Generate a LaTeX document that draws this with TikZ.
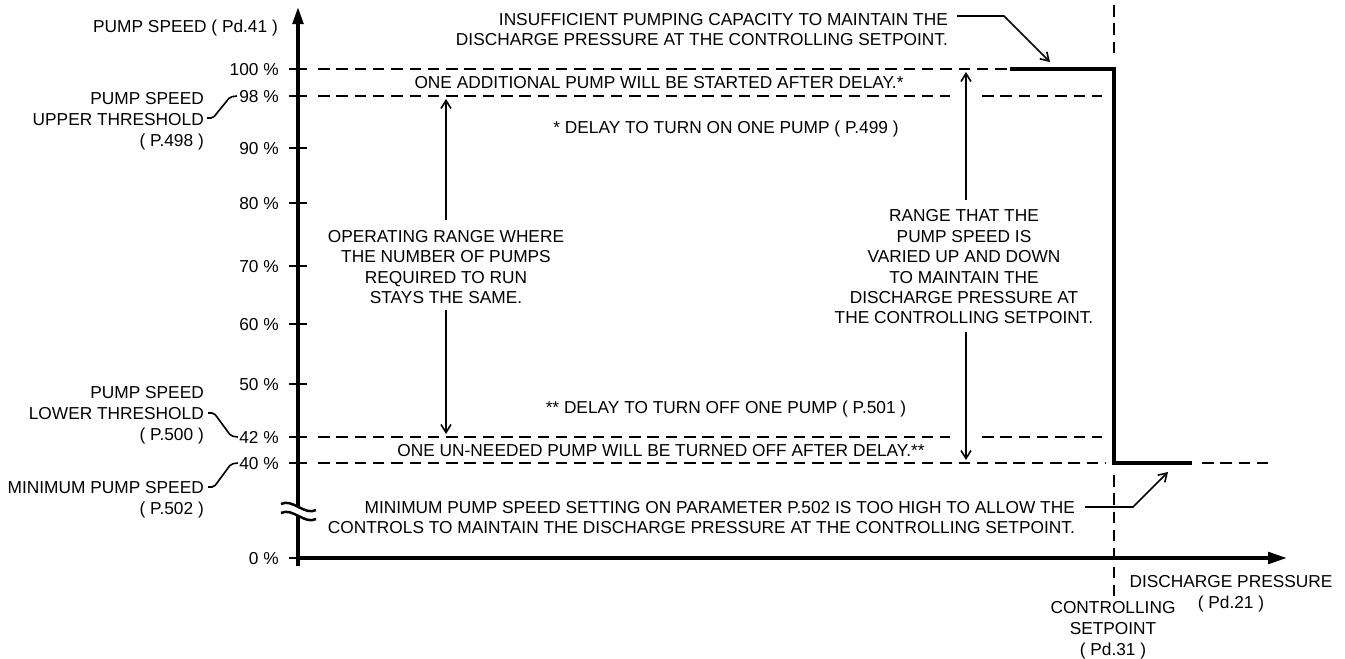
\documentclass[tikz,border=0pt]{standalone}
\usepackage{fontspec}
\setmainfont{Liberation Sans}
\usetikzlibrary{arrows.meta}
\begin{document}
\begin{tikzpicture}[x=1pt,y=-1pt,
  txt/.style={inner sep=0pt, font=\fontsize{17.3}{20.6}\selectfont},
  lbl/.style={txt, anchor=base east},
  ctr/.style={txt, anchor=base},
  axisline/.style={line width=4.8pt},
  tickline/.style={line width=2pt},
  dashline/.style={line width=2pt, dash pattern=on 11.5pt off 6.8pt},
  stepline/.style={line width=4.2pt, line join=miter},
  rangearrow/.style={line width=1.6pt, -{Straight Barb[length=8pt,width=10pt,line width=1.6pt]}},
  leader/.style={line width=1.6pt, rounded corners=2pt},
  breakline/.style={line width=2.5pt}
]
\useasboundingbox (0,0) rectangle (1345,659);

% ---- axes ----
\coordinate (yBreakTop) at (298,507);
\coordinate (yTip) at (298,6);
\coordinate (yBreakBot) at (298,516);
\coordinate (yFoot) at (298,566);
\coordinate (xStart) at (296,558);
\coordinate (xTip) at (1288,558);
\draw[axisline,-{Triangle[length=18pt,width=10pt]}] (yBreakTop) -- (yTip);
\draw[axisline] (yBreakBot) -- (yFoot);
\draw[axisline,-{Triangle[length=20pt,width=11pt]}] (xStart) -- (xTip);

% break symbol
\draw[breakline] (281,504) .. controls (292,498) and (305,516) .. (316,510);
\draw[breakline] (281,513) .. controls (292,507) and (305,525) .. (316,519);

% ticks and labels
\foreach \yy/\lab in {69/100 \%,96/98 \%,148/90 \%,203/80 \%,266/70 \%,324/60 \%,384/50 \%,437/42 \%,463/40 \%,558/0 \%}{
  \draw[tickline] (289,\yy) -- (307,\yy);
  \node[lbl] at (279,\yy+6.5) {\lab};
}
\node[lbl] (yTitle) at (278,32) {PUMP SPEED ( Pd.41 )};

% ---- dashed reference lines ----
\draw[dashline] (318,69) -- (1010,69);
\draw[dashline] (318,96) -- (950,96);
\draw[dashline] (982,96) -- (1102,96);
\draw[dashline] (318,437) -- (950,437);
\draw[dashline] (982,437) -- (1102,437);
\draw[dashline] (318,463) -- (1105,463);
\draw[dashline] (1202,463) -- (1272,463);
\draw[dashline] (1114,5) -- (1114,57);
\draw[dashline] (1114,475) -- (1114,596);

% ---- step ----
\coordinate (s1) at (1010,69);
\coordinate (s2) at (1114,69);
\coordinate (s3) at (1114,463);
\coordinate (s4) at (1192,463);
\draw[stepline] (s1) -- (s2) -- (s3) -- (s4);

% ---- left labels with leaders ----
\node[lbl] (up1) at (204,104) {PUMP SPEED};
\node[lbl] (up2) at (204,125) {UPPER THRESHOLD};
\node[lbl] (up3) at (204,146) {( P.498 )};
\draw[leader] (207,118) -- (213,118) -- (230,97) -- (237,96);

\node[lbl] (lo1) at (204,398) {PUMP SPEED};
\node[lbl] (lo2) at (204,419) {LOWER THRESHOLD};
\node[lbl] (lo3) at (204,440) {( P.500 )};
\draw[leader] (208,413) -- (214,413) -- (231,436) -- (238,437);

\node[lbl] (mi1) at (204,493) {MINIMUM PUMP SPEED};
\node[lbl] (mi2) at (204,514) {( P.502 )};
\draw[leader] (208,487) -- (214,487) -- (231,464) -- (238,463);

% ---- top callout ----
\node[lbl] (ins1) at (948,25) {INSUFFICIENT PUMPING CAPACITY TO MAINTAIN THE};
\node[lbl] (ins2) at (948,45) {DISCHARGE PRESSURE AT THE CONTROLLING SETPOINT.};
\coordinate (insA) at (957,16);
\coordinate (insB) at (1004,16);
\coordinate (insTip) at (1050,62);
\draw[rangearrow] (insA) -- (insB) -- (insTip);

% ---- notes ----
\node[ctr] (addp) at (659,88) {ONE ADDITIONAL PUMP WILL BE STARTED AFTER DELAY.*};
\node[ctr] (dlon) at (726,133) {* DELAY TO TURN ON ONE PUMP ( P.499 )};
\node[ctr] (dloff) at (726,413) {** DELAY TO TURN OFF ONE PUMP ( P.501 )};
\node[ctr] (offp) at (661,456) {ONE UN-NEEDED PUMP WILL BE TURNED OFF AFTER DELAY.**};

% ---- left range ----
\node[ctr] (op1) at (446,242) {OPERATING RANGE WHERE};
\node[ctr] (op2) at (446,262) {THE NUMBER OF PUMPS};
\node[ctr] (op3) at (446,283) {REQUIRED TO RUN};
\node[ctr] (op4) at (446,303) {STAYS THE SAME.};
\coordinate (opTopEnd) at (446,220);
\coordinate (opTopTip) at (446,99);
\coordinate (opBotEnd) at (446,310);
\coordinate (opBotTip) at (446,434);
\draw[rangearrow] (opTopEnd) -- (opTopTip);
\draw[rangearrow] (opBotEnd) -- (opBotTip);

% ---- right range ----
\node[ctr] (rg1) at (964,221) {RANGE THAT THE};
\node[ctr] (rg2) at (964,242) {PUMP SPEED IS};
\node[ctr] (rg3) at (964,262) {VARIED UP AND DOWN};
\node[ctr] (rg4) at (964,283) {TO MAINTAIN THE};
\node[ctr] (rg5) at (964,303) {DISCHARGE PRESSURE AT};
\node[ctr] (rg6) at (964,323) {THE CONTROLLING SETPOINT.};
\coordinate (rgTopEnd) at (966,200);
\coordinate (rgTopTip) at (966,72);
\coordinate (rgBotEnd) at (966,332);
\coordinate (rgBotTip) at (966,460);
\draw[rangearrow] (rgTopEnd) -- (rgTopTip);
\draw[rangearrow] (rgBotEnd) -- (rgBotTip);

% ---- bottom callout ----
\node[lbl] (min1) at (1075,513) {MINIMUM PUMP SPEED SETTING ON PARAMETER P.502 IS TOO HIGH TO ALLOW THE};
\node[lbl] (min2) at (1075,533) {CONTROLS TO MAINTAIN THE DISCHARGE PRESSURE AT THE CONTROLLING SETPOINT.};
\coordinate (minA) at (1085,507);
\coordinate (minB) at (1133,507);
\coordinate (minTip) at (1168,472);
\draw[rangearrow] (minA) -- (minB) -- (minTip);

% ---- x-axis labels ----
\node[ctr] (xt1) at (1231,587) {DISCHARGE PRESSURE};
\node[ctr] (xt2) at (1231,608) {( Pd.21 )};
\node[ctr] (cs1) at (1113,613) {CONTROLLING};
\node[ctr] (cs2) at (1113,634) {SETPOINT};
\node[ctr] (cs3) at (1113,655) {( Pd.31 )};
\end{tikzpicture}
\end{document}
